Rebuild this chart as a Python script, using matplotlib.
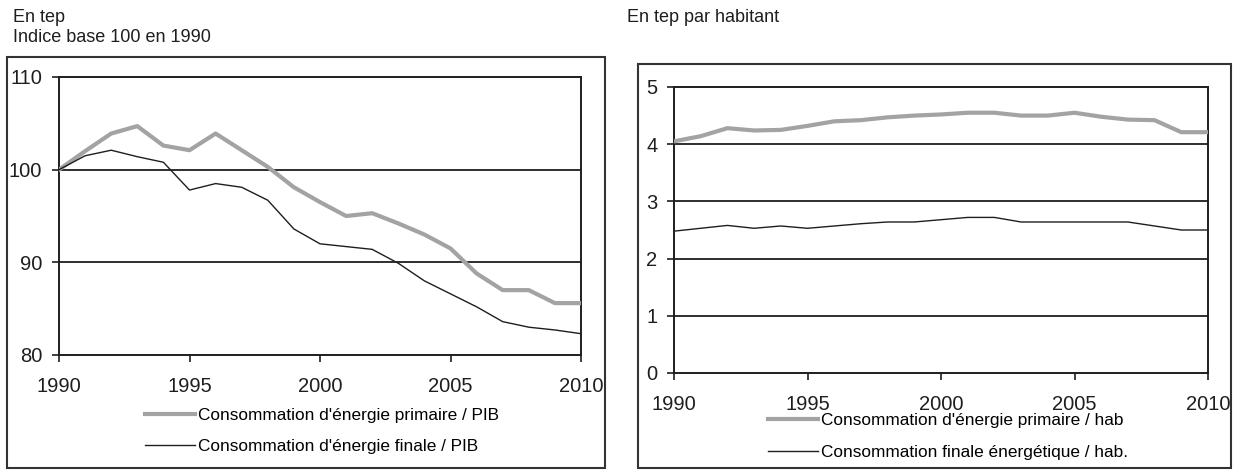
import matplotlib.pyplot as plt
from matplotlib.patches import Rectangle

plt.rcParams['font.family'] = ['Liberation Sans', 'DejaVu Sans']

# Data
years = list(range(1990, 2011))

# left chart: index base 100 in 1990
primaire_pib = [100, 102.0, 103.9, 104.7, 102.6, 102.1, 103.9, 102.1, 100.3, 98.1,
                96.5, 95.0, 95.3, 94.2, 93.0, 91.5, 88.8, 87.0, 87.0, 85.6, 85.6]
finale_pib = [100, 101.5, 102.1, 101.4, 100.8, 97.8, 98.5, 98.1, 96.7, 93.6,
              92.0, 91.7, 91.4, 89.9, 88.0, 86.6, 85.2, 83.6, 83.0, 82.7, 82.3]

# right chart: tep per inhabitant
primaire_hab = [4.05, 4.14, 4.28, 4.24, 4.25, 4.32, 4.40, 4.42, 4.47, 4.50,
                4.52, 4.55, 4.55, 4.50, 4.50, 4.55, 4.48, 4.43, 4.42, 4.21, 4.21]
finale_hab = [2.48, 2.53, 2.58, 2.53, 2.57, 2.53, 2.57, 2.61, 2.64, 2.64,
              2.68, 2.72, 2.72, 2.64, 2.64, 2.64, 2.64, 2.64, 2.57, 2.50, 2.50]

left_labels = ["Consommation d'énergie primaire / PIB",
               "Consommation d'énergie finale / PIB"]
right_labels = ["Consommation d'énergie primaire / hab",
                "Consommation finale énergétique / hab."]

GREY = '#a3a3a3'
DARK = '#1e1e1e'
W, H = 1234, 471

fig = plt.figure(figsize=(W / 100, H / 100), dpi=100)


def px_rect(x0, y0, x1, y1):
    # pixel box (top-left origin) -> figure fraction [left, bottom, width, height]
    return [x0 / W, 1 - y1 / H, (x1 - x0) / W, (y1 - y0) / H]


def style_axes(ax, yticks, ylim):
    ax.set_xlim(1990, 2010)
    ax.set_ylim(*ylim)
    ax.set_xticks([1990, 1995, 2000, 2005, 2010])
    ax.set_yticks(yticks)
    for y in yticks[1:-1]:
        ax.axhline(y, color=DARK, lw=1.3, zorder=1)
    for s in ax.spines.values():
        s.set_color(DARK)
        s.set_linewidth(1.4)
    ax.tick_params(axis='both', labelsize=14.5, colors=DARK, width=1.2, length=5)
    ax.tick_params(axis='x', pad=11)
    ax.tick_params(axis='y', pad=7)


# outer frames
for box in [px_rect(7, 57, 605, 468), px_rect(638, 64, 1231, 468)]:
    fig.patches.append(Rectangle((box[0], box[1]), box[2], box[3], fill=False,
                                 edgecolor='#333333', lw=1.5,
                                 transform=fig.transFigure))

# left chart
ax1 = fig.add_axes(px_rect(59, 77, 581, 355))
l1, = ax1.plot(years, primaire_pib, color=GREY, lw=3, zorder=3)
l2, = ax1.plot(years, finale_pib, color=DARK, lw=1.0, zorder=4)
style_axes(ax1, [80, 90, 100, 110], (80, 110))
fig.legend([l1, l2], left_labels, loc='center left',
           bbox_to_anchor=(145 / W, 1 - 431 / H), frameon=False,
           fontsize=12.4, handlelength=2.9, handletextpad=0.2,
           labelspacing=0.95, borderpad=0, borderaxespad=0)

# right chart
ax2 = fig.add_axes(px_rect(674, 87, 1208, 373))
r1, = ax2.plot(years, primaire_hab, color=GREY, lw=3, zorder=3)
r2, = ax2.plot(years, finale_hab, color=DARK, lw=1.0, zorder=4)
style_axes(ax2, [0, 1, 2, 3, 4, 5], (0, 5))
fig.legend([r1, r2], right_labels, loc='center left',
           bbox_to_anchor=(768 / W, 1 - 436.5 / H), frameon=False,
           fontsize=12.4, handlelength=2.9, handletextpad=0.2,
           labelspacing=0.95, borderpad=0, borderaxespad=0)

# headers
fig.text(13 / W, 1 - 17 / H, 'En tep', fontsize=13, va='center', color=DARK)
fig.text(13 / W, 1 - 38 / H, 'Indice base 100 en 1990', fontsize=13,
         va='center', color=DARK)
fig.text(627 / W, 1 - 17 / H, 'En tep par habitant', fontsize=13,
         va='center', color=DARK)

fig.savefig('out.png', dpi=100)
